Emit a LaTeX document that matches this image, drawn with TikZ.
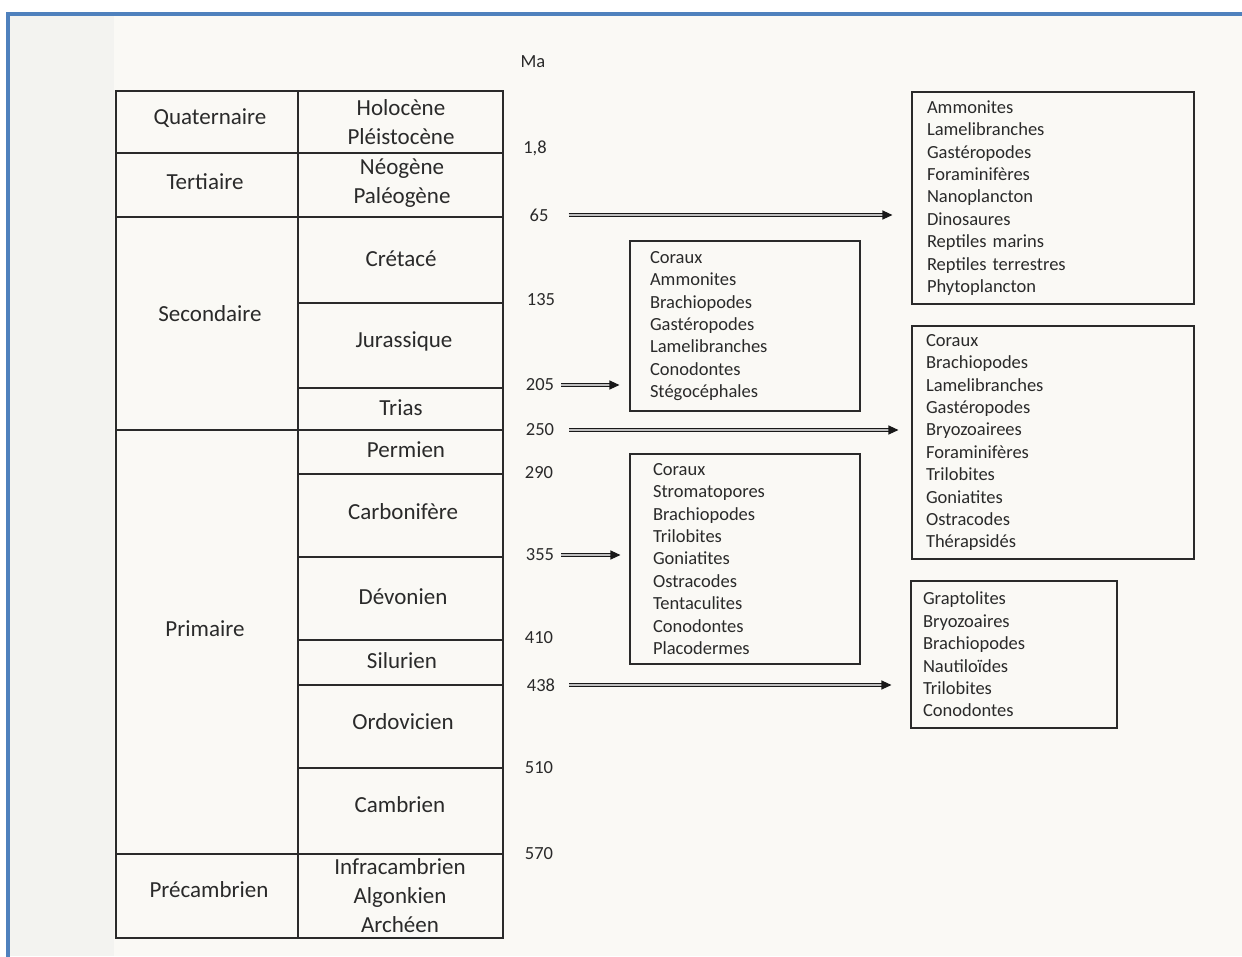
\documentclass[tikz,border=0pt]{standalone}
\usepackage{fontspec}
\setmainfont{Carlito}
\usetikzlibrary{arrows.meta}
\definecolor{paper}{HTML}{FAF9F5}
\definecolor{strip}{HTML}{F3F3F0}
\definecolor{frameblue}{HTML}{4F81BD}
\definecolor{ink}{HTML}{2A2A2A}
\begin{document}
\begin{tikzpicture}[x=1pt,y=-1pt,
  cell/.style={draw=ink, line width=1.3pt},
  tlab/.style={font=\fontsize{23}{29}\selectfont, align=center, inner sep=0pt, text=ink},
  ma/.style={font=\fontsize{18.5}{22}\selectfont, inner sep=0pt, text=ink},
  list/.style={draw=ink, line width=1.1pt, font=\fontsize{18.5}{22.4}\selectfont, align=left, inner ysep=0pt, text=ink},
  arr/.style={draw=black!90, line width=1.1pt, double=gray!50, double distance=1.6pt, -{Triangle[length=10pt,width=9pt]}}
]
\useasboundingbox (0,0) rectangle (1242,956);
\fill[white] (0,0) rectangle (1242,956);
\fill[paper] (8,14) rectangle (1242,956);
\fill[strip] (10,16) rectangle (114,956);
\draw[frameblue, line width=3.6pt] (8,970) -- (8,14) -- (1260,14);

% table cells, left column
\draw[cell] (116,91) rectangle (298,153);
\draw[cell] (116,153) rectangle (298,217);
\draw[cell] (116,217) rectangle (298,430);
\draw[cell] (116,430) rectangle (298,854);
\draw[cell] (116,854) rectangle (298,938);
% right column
\draw[cell] (298,91) rectangle (503,153);
\draw[cell] (298,153) rectangle (503,217);
\draw[cell] (298,217) rectangle (503,303);
\draw[cell] (298,303) rectangle (503,388);
\draw[cell] (298,388) rectangle (503,430);
\draw[cell] (298,430) rectangle (503,474);
\draw[cell] (298,474) rectangle (503,557);
\draw[cell] (298,557) rectangle (503,640);
\draw[cell] (298,640) rectangle (503,685);
\draw[cell] (298,685) rectangle (503,768);
\draw[cell] (298,768) rectangle (503,854);
\draw[cell] (298,854) rectangle (503,938);

% era labels
\node[tlab] (quat) at (210,118) {Quaternaire};
\node[tlab] (tert) at (205,182) {Tertiaire};
\node[tlab] (seco) at (210,314) {Secondaire};
\node[tlab] (prim) at (205,629) {Primaire};
\node[tlab] (prec) at (209,890) {Précambrien};
% period labels
\node[tlab] (holo) at (401,122.5) {Holocène\\Pléistocène};
\node[tlab] (neog) at (402,183.5) {Néogène\\Paléogène};
\node[tlab] (cret) at (401,259) {Crétacé};
\node[tlab] (jura) at (404,341) {Jurassique};
\node[tlab] (trias) at (401,408) {Trias};
\node[tlab] (perm) at (406,450) {Permien};
\node[tlab] (carb) at (403,512) {Carbonifère};
\node[tlab] (devo) at (403,597) {Dévonien};
\node[tlab] (silu) at (402,661) {Silurien};
\node[tlab] (ordo) at (403,722) {Ordovicien};
\node[tlab] (camb) at (400,805) {Cambrien};
\node[tlab] (infra) at (400,895.5) {Infracambrien\\Algonkien\\Archéen};

% Ma labels
\node[ma] (nma) at (533,62) {Ma};
\node[ma] (n18) at (535,148) {1,8};
\node[ma] (n65) at (539,215) {65};
\node[ma] (n135) at (541,300) {135};
\node[ma] (n205) at (540,385) {205};
\node[ma] (n250) at (540,430) {250};
\node[ma] (n290) at (539,473) {290};
\node[ma] (n355) at (540,555) {355};
\node[ma] (n410) at (539,638) {410};
\node[ma] (n438) at (541,685) {438};
\node[ma] (n510) at (539,768) {510};
\node[ma] (n570) at (539,854) {570};

% fauna boxes
\node[list, inner xsep=15pt, text width=252pt, minimum height=212pt] (boxA) at (1053,198)
  {Ammonites\\Lamelibranches\\Gastéropodes\\Foraminifères\\Nanoplancton\\Dinosaures\\Reptiles marins\\Reptiles terrestres\\Phytoplancton};
\node[list, inner xsep=20pt, text width=190pt, minimum height=170pt] (boxB) at (745,326)
  {Coraux\\Ammonites\\Brachiopodes\\Gastéropodes\\Lamelibranches\\Conodontes\\Stégocéphales};
\node[list, inner xsep=14pt, text width=254pt, minimum height=233pt] (boxC) at (1053,442.5)
  {Coraux\\Brachiopodes\\Lamelibranches\\Gastéropodes\\Bryozoairees\\Foraminifères\\Trilobites\\Goniatites\\Ostracodes\\Thérapsidés};
\node[list, inner xsep=23pt, text width=184pt, minimum height=210pt] (boxD) at (745,559)
  {Coraux\\Stromatopores\\Brachiopodes\\Trilobites\\Goniatites\\Ostracodes\\Tentaculites\\Conodontes\\Placodermes};
\node[list, inner xsep=12pt, text width=182pt, minimum height=147pt] (boxE) at (1014,654.5)
  {Graptolites\\Bryozoaires\\Brachiopodes\\Nautiloïdes\\Trilobites\\Conodontes};

% arrows
\draw[arr, shorten <=20pt, shorten >=19pt] (n65.east) -- (n65.east -| boxA.west);
\draw[arr, shorten <=7pt, shorten >=10pt] (n205.east) -- (n205.east -| boxB.west);
\draw[arr, shorten <=15pt, shorten >=13pt] (n250.east) -- (n250.east -| boxC.west);
\draw[arr, shorten <=7pt, shorten >=9pt] (n355.east) -- (n355.east -| boxD.west);
\draw[arr, shorten <=14pt, shorten >=19pt] (n438.east) -- (n438.east -| boxE.west);
\end{tikzpicture}
\end{document}
